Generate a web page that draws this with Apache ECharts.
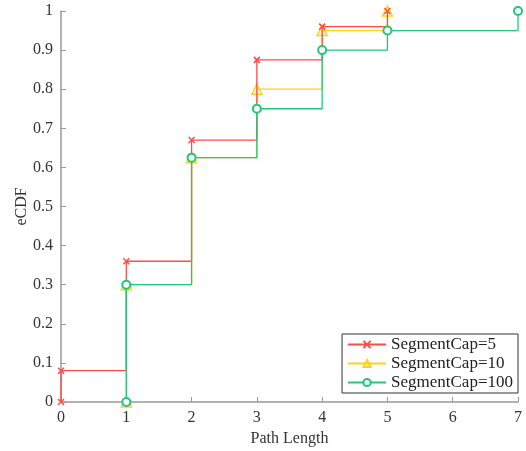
<!DOCTYPE html>
<html>
<head>
<meta charset="utf-8">
<script src="https://cdn.jsdelivr.net/npm/echarts@6/dist/echarts.min.js"></script>
<style>html,body{margin:0;padding:0;background:#fff}#chart{width:526px;height:451px}</style>
</head>
<body>
<div id="chart"></div>
<script>
var seriesNames = ["SegmentCap=5", "SegmentCap=10", "SegmentCap=100"];
var capX5 = [0, 0, 1, 2, 3, 4, 5];
var capY5 = [0, 0.08, 0.36, 0.67, 0.875, 0.96, 1];
var capX10 = [1, 1, 2, 3, 4, 5];
var capY10 = [0, 0.3, 0.625, 0.8, 0.95, 1];
var capX100 = [1, 1, 2, 3, 4, 5, 7];
var capY100 = [0, 0.3, 0.625, 0.75, 0.9, 0.95, 1];
var colors = ["#ff4a4a", "#ffd21a", "#1ec97a"];

function pairs(xs, ys) {
    return xs.map(function (x, i) { return [x, ys[i]]; });
}

var serif = "Liberation Serif";
var dom = document.getElementById("chart");
var myChart = echarts.init(dom);
var option = {
    animation: false,
    textStyle: { fontFamily: serif },
    grid: { left: 61, right: 8, top: 11, bottom: 49, outerBoundsMode: "none", containLabel: false },
    legend: {
        right: 8,
        bottom: 58,
        orient: "vertical",
        itemGap: 2,
        itemWidth: 38,
        itemHeight: 9,
        padding: [2, 5, 2, 5],
        borderColor: "#333",
        borderWidth: 1,
        backgroundColor: "#fff",
        textStyle: { fontFamily: serif, fontSize: 17, color: "#222" },
        data: seriesNames
    },
    xAxis: {
        type: "value",
        min: 0, max: 7, interval: 1,
        name: "Path Length",
        nameLocation: "middle",
        nameGap: 29,
        nameMoveOverlap: false,
        nameTextStyle: { fontFamily: serif, fontSize: 16, color: "#333" },
        axisLine: { show: true, lineStyle: { color: "#999", width: 1.5 } },
        axisTick: { show: true, inside: true, length: 5, lineStyle: { color: "#999" } },
        axisLabel: { fontFamily: serif, fontSize: 16, color: "#333", margin: 8 },
        splitLine: { show: false }
    },
    yAxis: {
        type: "value",
        min: 0, max: 1, interval: 0.1,
        name: "eCDF",
        nameLocation: "middle",
        nameGap: 31,
        nameMoveOverlap: false,
        nameTextStyle: { fontFamily: serif, fontSize: 16, color: "#333" },
        axisLine: { show: true, lineStyle: { color: "#999", width: 1.5 } },
        axisTick: { show: true, inside: true, length: 5, lineStyle: { color: "#999" } },
        axisLabel: { fontFamily: serif, fontSize: 16, color: "#333", margin: 8 },
        splitLine: { show: false }
    },
    series: [{
        name: seriesNames[0],
        type: "line",
        step: "end",
        data: pairs(capX5, capY5),
        symbol: "path://M0,0L10,10M10,0L0,10",
        symbolSize: 6,
        lineStyle: { color: colors[0], width: 1.3 },
        itemStyle: { color: colors[0], borderColor: colors[0], borderWidth: 1.5 },
        z: 3
    }, {
        name: seriesNames[1],
        type: "line",
        step: "end",
        data: pairs(capX10, capY10),
        symbol: "triangle",
        symbolSize: 10,
        lineStyle: { color: colors[1], width: 1.3 },
        itemStyle: { color: "rgba(255,255,255,0)", borderColor: colors[1], borderWidth: 1.5 },
        z: 2
    }, {
        name: seriesNames[2],
        type: "line",
        step: "end",
        data: pairs(capX100, capY100),
        symbol: "emptyCircle",
        symbolSize: 8,
        lineStyle: { color: colors[2], width: 1.3 },
        itemStyle: { color: colors[2], borderColor: colors[2], borderWidth: 1.5 },
        z: 4
    }]
};
myChart.setOption(option);
</script>
</body>
</html>
